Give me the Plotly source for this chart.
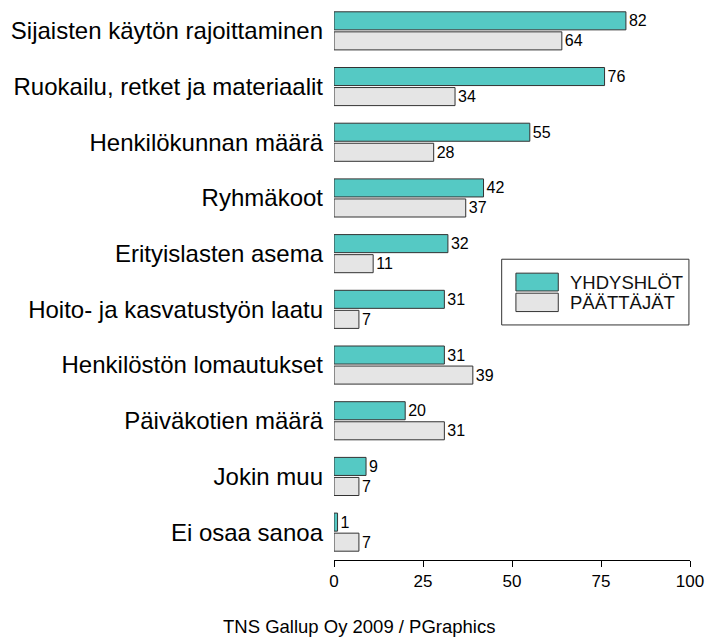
import plotly.graph_objects as go

# Data
categories = [
    "Sijaisten käytön rajoittaminen",
    "Ruokailu, retket ja materiaalit",
    "Henkilökunnan määrä",
    "Ryhmäkoot",
    "Erityislasten asema",
    "Hoito- ja kasvatustyön laatu",
    "Henkilöstön lomautukset",
    "Päiväkotien määrä",
    "Jokin muu",
    "Ei osaa sanoa",
]
yhdyshlot = [82, 76, 55, 42, 32, 31, 31, 20, 9, 1]
paattajat = [64, 34, 28, 37, 11, 7, 39, 31, 7, 7]
series_names = ["YHDYSHLÖT", "PÄÄTTÄJÄT"]
x_ticks = [0, 25, 50, 75, 100]

teal = "#55C9C4"
grey = "#E5E5E5"
edge = "#333333"
font = "Arial, Liberation Sans, sans-serif"

fig = go.Figure()

for vals, color, name in [(yhdyshlot, teal, series_names[0]),
                          (paattajat, grey, series_names[1])]:
    fig.add_trace(go.Bar(
        y=categories,
        x=vals,
        orientation="h",
        name=name,
        marker=dict(color=color, line=dict(color=edge, width=1)),
        text=vals,
        textposition="outside",
        constraintext="none",
        cliponaxis=False,
        textfont=dict(size=16, color="black", family=font),
        showlegend=False,
    ))

# hand-drawn legend box (paper coordinates)
fig.add_shape(type="rect", xref="paper", yref="paper",
              x0=0.471, x1=0.997, y0=0.422, y1=0.540,
              line=dict(color=edge, width=1), fillcolor="white")
fig.add_shape(type="rect", xref="paper", yref="paper",
              x0=0.511, x1=0.630, y0=0.483, y1=0.515,
              line=dict(color=edge, width=1), fillcolor=teal)
fig.add_shape(type="rect", xref="paper", yref="paper",
              x0=0.511, x1=0.630, y0=0.446, y1=0.479,
              line=dict(color=edge, width=1), fillcolor=grey)
for label, ypos in zip(series_names, [0.499, 0.463]):
    fig.add_annotation(text=label, xref="paper", yref="paper",
                       x=0.658, y=ypos, xanchor="left", yanchor="middle",
                       showarrow=False,
                       font=dict(size=18.5, color="#111111", family=font))

# footer
fig.add_annotation(text="TNS Gallup Oy 2009 / PGraphics",
                   xref="paper", yref="paper", x=0.07, y=-0.1185,
                   xanchor="center", yanchor="middle", showarrow=False,
                   font=dict(size=18.5, color="black", family=font))

fig.update_layout(
    width=709, height=643,
    margin=dict(l=334, r=19, t=3, b=83),
    barmode="group",
    bargap=0.28,
    bargroupgap=0.1,
    plot_bgcolor="white",
    paper_bgcolor="white",
    font=dict(family=font, color="black"),
    xaxis=dict(
        range=[0, 100],
        tickvals=x_ticks,
        showgrid=False,
        zeroline=False,
        showline=True,
        linecolor="black",
        linewidth=1,
        ticks="outside",
        ticklen=6,
        tickcolor="black",
        tickfont=dict(size=17, color="black", family=font),
        automargin=False,
    ),
    yaxis=dict(
        range=[9.5, -0.5],
        showgrid=False,
        zeroline=False,
        showline=False,
        ticks="",
        ticklabelstandoff=10,
        tickfont=dict(size=24, color="black", family=font),
        automargin=False,
    ),
)

# drop the browser's default 8px body margin so the figure sits at 0,0
fig.write_html("out.html", config={"displayModeBar": False},
               post_script="document.body.style.margin='0';")
